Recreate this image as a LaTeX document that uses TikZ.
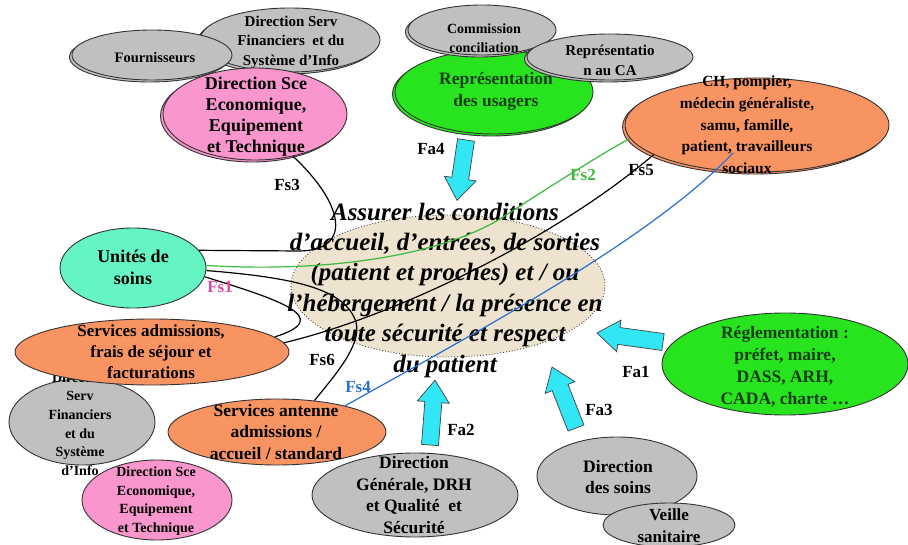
\documentclass[tikz,border=0pt]{standalone}
\usepackage{fontspec}
\setmainfont{Liberation Serif}
\usetikzlibrary{shapes.geometric,shadows}
\definecolor{cgray}{RGB}{192,192,192}
\definecolor{cpink}{RGB}{248,150,205}
\definecolor{cgreen}{RGB}{40,228,30}
\definecolor{corange}{RGB}{248,148,98}
\definecolor{caqua}{RGB}{100,245,195}
\definecolor{ccyan}{RGB}{50,230,245}
\definecolor{cbeige}{RGB}{237,227,206}
\definecolor{tgreen}{RGB}{25,60,25}
\definecolor{lgreen}{RGB}{60,185,60}
\definecolor{lmag}{RGB}{225,70,160}
\definecolor{lblue}{RGB}{40,110,210}
\tikzset{
  ell/.style={ellipse, draw=black!80, line width=0.9pt, inner sep=0pt},
  dbl/.style={copy shadow={shadow xshift=-2.5pt, shadow yshift=-2pt}},
  tx/.style={align=center, inner sep=0pt},
  fa/.style={font=\bfseries\fontsize{14}{18.7}\selectfont},
  fb/.style={font=\bfseries\fontsize{15}{19.5}\selectfont},
  fc/.style={font=\bfseries\fontsize{17.5}{21.7}\selectfont},
  conn/.style={line width=1.2pt},
  lab/.style={inner sep=0pt, font=\bfseries\fontsize{17}{20}\selectfont},
  arr/.style={draw=black!75, line width=0.7pt, fill=ccyan},
}
\newcommand\cyanarrow[3]{%
  \begin{scope}[shift={#1}, rotate=#2]
    \draw[arr] (0,-8.5) -- (#3-22,-8.5) -- (#3-22,-16) -- (#3,0) -- (#3-22,16) -- (#3-22,8.5) -- (0,8.5) -- cycle;
  \end{scope}}
\begin{document}
\begin{tikzpicture}[x=1pt,y=-1pt]
\useasboundingbox (0,0) rectangle (908,545);
% top left cluster
\node[ell, dbl, fill=cgray, minimum width=180pt, minimum height=64pt] (dsf) at (290,40) {};
\node[tx, fb] (dsfT) at (291,42) {Direction Serv\\Financiers~ et du\\Système d’Info};
\node[ell, dbl, fill=cgray, minimum width=160pt, minimum height=50pt] (four) at (152,55) {};
\node[tx, font=\bfseries\fontsize{14.5}{18}\selectfont] (fourT) at (155,58) {Fournisseurs};
\node[ell, dbl, fill=cpink, minimum width=184pt, minimum height=92pt] (dse) at (255,114) {};
\node[tx, font=\bfseries\fontsize{18}{21}\selectfont] (dseT) at (256,117) {Direction Sce\\Economique,\\Equipement\\et Technique};
% top middle cluster
\node[ell, dbl, fill=cgreen, minimum width=198pt, minimum height=84pt] (rep) at (494,92) {};
\node[tx, text=tgreen, font=\bfseries\fontsize{17.5}{22}\selectfont] (repT) at (496,91) {Représentation\\des usagers};
\node[ell, dbl, fill=cgray, minimum width=148pt, minimum height=50pt] (com) at (482,30) {};
\node[tx, font=\bfseries\fontsize{14}{19}\selectfont] (comT) at (484,38) {Commission\\conciliation};
\node[ell, dbl, fill=cgray, minimum width=166pt, minimum height=46pt] (ca) at (610,57) {};
\node[tx, font=\bfseries\fontsize{15}{20}\selectfont] (caT) at (610,60) {Représentatio\\n au CA};
% top right
\node[ell, dbl, fill=corange, minimum width=264pt, minimum height=94pt] (ch) at (757,125) {};
\node[tx, font=\bfseries\fontsize{15.5}{21.7}\selectfont] (chT) at (747,125) {CH, pompier,\\médecin généraliste,\\samu, famille,\\patient, travailleurs\\sociaux};
% centre
\node[ellipse, draw=black!75, dotted, line width=0.9pt, fill=cbeige, minimum width=314pt, minimum height=142pt] (ctr) at (448,286) {};
\node[tx, font=\bfseries\itshape\fontsize{25}{30.4}\selectfont] (ctrT) at (445,290) {Assurer les conditions\\d’accueil, d’entrées, de sorties\\(patient et proches) et / ou\\l’hébergement / la présence en\\toute sécurité et respect\\du patient};
% left
\node[ell, fill=caqua, minimum width=146pt, minimum height=80pt] (uni) at (133,268) {};
\node[tx, font=\bfseries\fontsize{18}{22}\selectfont] (uniT) at (133,267) {Unités de\\soins};
\node[ell, fill=cgray, minimum width=146pt, minimum height=86pt] (dsf2) at (82,422) {};
\node[tx, fa] (dsf2T) at (80,424) {Direction\\Serv\\Financiers\\et du\\Système\\d’Info};
\node[ell, fill=corange, minimum width=274pt, minimum height=66pt] (sad) at (152,352) {};
\node[tx, font=\bfseries\fontsize{17}{21}\selectfont] (sadT) at (151,352) {Services admissions,\\frais de séjour et\\facturations};
\node[ell, fill=cpink, minimum width=150pt, minimum height=80pt] (dse2) at (157,500) {};
\node[tx, font=\bfseries\fontsize{14}{18.5}\selectfont] (dse2T) at (156,501) {Direction Sce\\Economique,\\Equipement\\et Technique};
\node[ell, fill=corange, minimum width=218pt, minimum height=66pt] (san) at (277,432) {};
\node[tx, font=\bfseries\fontsize{17.5}{21.5}\selectfont] (sanT) at (276,432) {Services antenne\\admissions /\\accueil / standard};
% bottom
\node[ell, fill=cgray, minimum width=206pt, minimum height=84pt] (dg) at (415,495) {};
\node[tx, fc] (dgT) at (414,495) {Direction\\Générale, DRH\\et Qualité~ et\\Sécurité};
\node[ell, fill=cgreen, minimum width=246pt, minimum height=102pt] (reg) at (785,364) {};
\node[tx, text=tgreen, font=\bfseries\fontsize{17.5}{22}\selectfont] (regT) at (785,367) {Réglementation :\\préfet, maire,\\DASS, ARH,\\CADA, charte …};
\node[ell, fill=cgray, minimum width=160pt, minimum height=78pt] (ds) at (617,476) {};
\node[tx, font=\bfseries\fontsize{17.5}{21}\selectfont] (dsT) at (618,477) {Direction\\des soins};
\node[ell, fill=cgray, minimum width=132pt, minimum height=44pt] (vs) at (669,525) {};
\node[tx, font=\bfseries\fontsize{17}{22}\selectfont] (vsT) at (669,526) {Veille\\sanitaire};
% connectors
\coordinate (fs4end) at (733,153);
\draw[conn] (dse.-48) .. controls (345,205) and (352,250) .. (300,251) -- (uni.15);
\draw[conn, lgreen] (uni.2) .. controls (330,273) and (440,255) .. (500,219) .. controls (560,180) and (600,155) .. (ch.186);
\draw[conn] (sad.4) .. controls (400,315) and (560,235) .. (ch.196);
\draw[conn, lblue] (san.21) .. controls (480,330) and (650,240) .. (fs4end);
\draw[conn] (uni.-2) .. controls (300,278) and (345,290) .. (356,322) .. controls (362,345) and (335,375) .. (san.40);
\draw[conn] (uni.-7) .. controls (280,300) and (335,318) .. (sad.7);
% connector labels
\node[lab] (fs3) at (287,185) {Fs3};
\node[lab, text=lgreen] (fs2) at (583,175) {Fs2};
\node[lab] (fs5) at (641,170) {Fs5};
\node[lab, text=lmag] (fs1) at (220,287) {Fs1};
\node[lab] (fs6) at (322,360) {Fs6};
\node[lab, text=lblue] (fs4) at (358,387) {Fs4};
% block arrows
\cyanarrow{(466,140)}{261.5}{61}
\cyanarrow{(430,445)}{85.6}{65}
\cyanarrow{(576,428)}{111.5}{65.5}
\cyanarrow{(663,342)}{172.2}{66.6}
\node[lab] (fa4) at (431,149) {Fa4};
\node[lab] (fa2) at (461,430) {Fa2};
\node[lab] (fa3) at (599,410) {Fa3};
\node[lab] (fa1) at (636,372) {Fa1};
\end{tikzpicture}
\end{document}
